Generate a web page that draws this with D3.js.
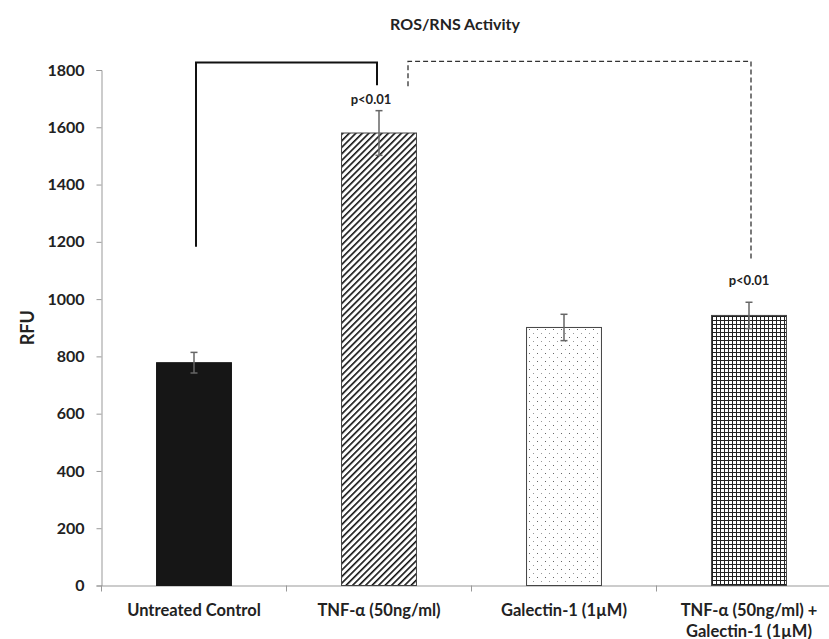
<!DOCTYPE html>
<html>
<head>
<meta charset="utf-8">
<script src="https://cdn.jsdelivr.net/npm/d3@7"></script>
<style>
  html, body { margin: 0; padding: 0; background: #fff; }
  svg { display: block; }
  text { font-family: Lato, "Open Sans", sans-serif; font-weight: bold; fill: #222; }
</style>
</head>
<body>
<svg id="chart" width="829" height="639"></svg>
<script>
// ---- data ----
const categories = ["Untreated Control", "TNF-α (50ng/ml)", "Galectin-1 (1µM)", "TNF-α (50ng/ml) +\nGalectin-1 (1µM)"];
const values = [778, 1580, 901, 943];
const errors = [36, 78, 46, 46];
const fills = ["solid", "diag", "dots", "grid"];
const yTicks = [0, 200, 400, 600, 800, 1000, 1200, 1400, 1600, 1800];
const sigLabels = ["p<0.01", "p<0.01"];
// brackets: [fromCategory, toCategory, fromY, topY, toY]
const brackets = [
  {from: 0, to: 1, fromY: 1183, topY: 1826, toY: 1747, dashed: false},
  {from: 1, to: 3, fromY: 1743, topY: 1830, toY: 1137, dashed: true}
];

const W = 829, H = 639;
const margin = {left: 101.5, top: 70, bottom: 53.5};
const svg = d3.select("#chart");

const x = d3.scaleBand().domain(categories).range([margin.left, margin.left + 4 * 185]).paddingInner(0.595).paddingOuter(0.2975);
const y = d3.scaleLinear().domain([0, 1800]).range([H - margin.bottom, margin.top]);

// patterns
const defs = svg.append("defs");
const pd = defs.append("pattern").attr("id", "diag").attr("patternUnits", "userSpaceOnUse")
  .attr("width", 4.6).attr("height", 4.6).attr("patternTransform", "rotate(45)");
pd.append("rect").attr("width", 4.6).attr("height", 4.6).attr("fill", "#fff");
pd.append("line").attr("x1", 0).attr("y1", 0).attr("x2", 0).attr("y2", 4.6).attr("stroke", "#111").attr("stroke-width", 3.2);

const pdots = defs.append("pattern").attr("id", "dots").attr("patternUnits", "userSpaceOnUse")
  .attr("width", 8).attr("height", 8);
pdots.append("rect").attr("width", 8).attr("height", 8).attr("fill", "#fff");
pdots.append("rect").attr("x", 1).attr("y", 1).attr("width", 1).attr("height", 1).attr("fill", "#666");
pdots.append("rect").attr("x", 5).attr("y", 5).attr("width", 1).attr("height", 1).attr("fill", "#999");

const pg = defs.append("pattern").attr("id", "grid").attr("patternUnits", "userSpaceOnUse")
  .attr("width", 4).attr("height", 4);
pg.append("rect").attr("width", 4).attr("height", 4).attr("fill", "#fff");
pg.append("path").attr("d", "M0,0.5H4M0.5,0V4").attr("stroke", "#222").attr("stroke-width", 1);

// title
svg.append("text").attr("x", 455).attr("y", 30).attr("text-anchor", "middle")
  .style("font-size", "16px").text("ROS/RNS Activity");

// y axis
const yAxis = svg.append("g").attr("transform", `translate(${margin.left},0)`)
  .call(d3.axisLeft(y).tickValues(yTicks).tickFormat(d3.format("d")).tickSize(5).tickPadding(12));
yAxis.select(".domain").attr("stroke", "#999");
yAxis.selectAll(".tick line").attr("stroke", "#999");
yAxis.selectAll(".tick text").style("font-size", "16px").style("font-family", "Lato, sans-serif")
  .style("font-weight", "bold").attr("fill", "#222");

svg.append("text").attr("transform", `translate(34,${(y(0) + y(1800)) / 2}) rotate(-90)`)
  .attr("text-anchor", "middle").style("font-size", "18px").text("RFU");

// x axis
const xAxisG = svg.append("g").attr("transform", `translate(0,${y(0)})`);
xAxisG.append("line").attr("x1", margin.left).attr("x2", W).attr("y1", 0.5).attr("y2", 0.5).attr("stroke", "#999");
const bandStep = x.step();
d3.range(0, 5).forEach(i => {
  const xx = margin.left + i * bandStep;
  xAxisG.append("line").attr("x1", xx).attr("x2", xx).attr("y1", 0).attr("y2", 6).attr("stroke", "#999");
});
categories.forEach((c, i) => {
  const lines = c.split("\n");
  const t = svg.append("text").attr("x", x(c) + x.bandwidth() / 2).attr("y", y(0) + 30)
    .attr("text-anchor", "middle").style("font-size", "16.5px");
  lines.forEach((l, j) => t.append("tspan").attr("x", x(c) + x.bandwidth() / 2).attr("dy", j === 0 ? 0 : 21).text(l));
});

// bars
const fillFor = f => f === "solid" ? "#161616" : `url(#${f})`;
svg.append("g").selectAll("rect").data(values).join("rect")
  .attr("x", (d, i) => x(categories[i]))
  .attr("y", d => y(d))
  .attr("width", x.bandwidth())
  .attr("height", d => y(0) - y(d))
  .attr("fill", (d, i) => fillFor(fills[i]))
  .attr("stroke", (d, i) => i === 0 ? "#161616" : "#444")
  .attr("stroke-width", 1);

// error bars
const eg = svg.append("g").attr("stroke", "#666").attr("stroke-width", 1.5);
values.forEach((v, i) => {
  const cx = x(categories[i]) + x.bandwidth() / 2;
  eg.append("line").attr("x1", cx).attr("x2", cx).attr("y1", y(v + errors[i])).attr("y2", y(v - errors[i]));
  [v + errors[i], v - errors[i]].forEach(e =>
    eg.append("line").attr("x1", cx - 3.5).attr("x2", cx + 3.5).attr("y1", y(e)).attr("y2", y(e)));
});

// significance brackets
brackets.forEach((b, k) => {
  const x1 = x(categories[b.from]) + x.bandwidth() / 2 + (b.dashed ? 29 : 2);
  const x2 = x(categories[b.to]) + x.bandwidth() / 2 + (b.dashed ? 2 : -2);
  svg.append("path")
    .attr("d", `M${x1},${y(b.fromY)}V${y(b.topY)}H${x2}V${y(b.toY)}`)
    .attr("fill", "none")
    .attr("stroke", b.dashed ? "#333" : "#111")
    .attr("stroke-width", b.dashed ? 1.3 : 2)
    .attr("stroke-dasharray", b.dashed ? "5,3" : null);
});

// p labels
svg.append("text").attr("x", x(categories[1]) + x.bandwidth() / 2 - 8).attr("y", y(1826) + 41)
  .attr("text-anchor", "middle").style("font-size", "13px").text(sigLabels[0]);
svg.append("text").attr("x", x(categories[3]) + x.bandwidth() / 2).attr("y", y(values[3] + errors[3]) - 17)
  .attr("text-anchor", "middle").style("font-size", "13px").text(sigLabels[1]);
</script>
</body>
</html>
